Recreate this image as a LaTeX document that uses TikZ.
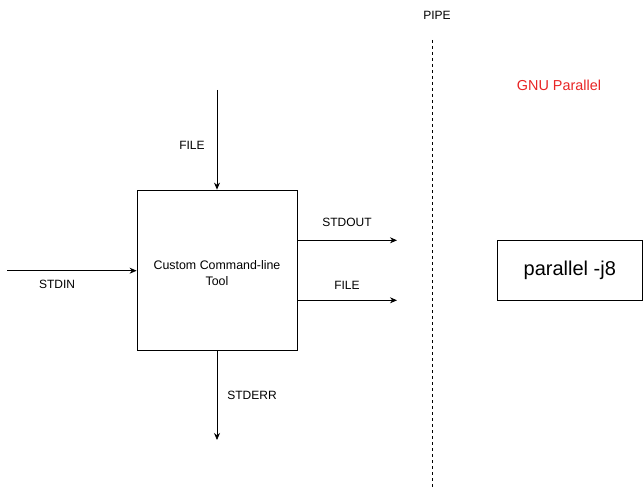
\documentclass[tikz,border=0pt]{standalone}
\usepackage{fontspec}
\setmainfont{Liberation Sans}
\usetikzlibrary{arrows.meta}
\definecolor{gnured}{RGB}{232,36,36}
\begin{document}
\begin{tikzpicture}[x=1pt,y=-1pt,
  lbl/.style={font=\fontsize{12}{14}\selectfont, inner sep=0pt},
  arr/.style={-{Stealth[length=7pt,width=6pt]}, line width=0.8pt},
  boxstyle/.style={draw, line width=0.8pt, inner sep=0pt}]
\useasboundingbox (0,0) rectangle (643,487);
\node[boxstyle, minimum width=160pt, minimum height=160pt] (tool) at (217,270) {};
\node[align=center, inner sep=0pt, font=\fontsize{12.4}{16}\selectfont] (tooltext) at (217,273) {Custom Command-line\\Tool};
\node[boxstyle, minimum width=145pt, minimum height=60pt, font=\fontsize{20}{24}\selectfont] (par) at (569.8,270) {parallel -j8};
\coordinate (ftop) at (217,90);
\coordinate (sin) at (7,270.7);
\coordinate (sout) at (397,240.3);
\coordinate (fout) at (397,300.3);
\coordinate (serr) at (217,440);
\draw[arr] (ftop) -- (tool.north);
\draw[arr] (sin) -- (sin -| tool.west);
\draw[arr] (sout -| tool.east) -- (sout);
\draw[arr] (fout -| tool.east) -- (fout);
\draw[arr] (tool.south) -- (serr);
\node[lbl] (lfile) at (192,145) {FILE};
\node[lbl] (lstdin) at (57,284.5) {STDIN};
\node[lbl] (lstdout) at (347,222) {STDOUT};
\node[lbl] (lfile2) at (347,285) {FILE};
\node[lbl] (lstderr) at (252,395) {STDERR};
\node[lbl] (lpipe) at (437,15) {PIPE};
\node[lbl, text=gnured, font=\fontsize{14.4}{16}\selectfont] (lgnu) at (559,85) {GNU Parallel};
\coordinate (ptop) at (432.3,40);
\coordinate (pbot) at (432.3,487);
\draw[dashed, dash pattern=on 3pt off 3pt, line width=0.8pt] (ptop) -- (pbot);
\end{tikzpicture}
\end{document}
